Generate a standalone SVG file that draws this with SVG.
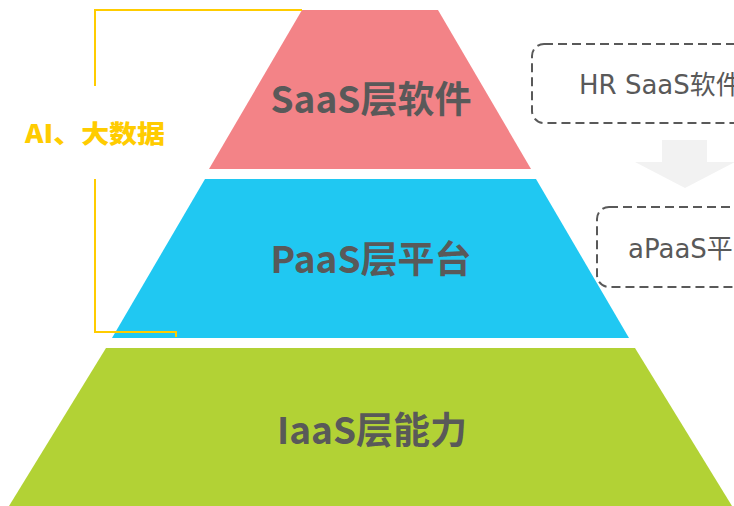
<svg xmlns="http://www.w3.org/2000/svg" width="734" height="506" viewBox="0 0 734 506">
<style>
.layer{font-family:"Noto Sans CJK SC","Noto Sans",sans-serif;font-weight:bold;font-size:37px;fill:#595959;text-anchor:middle}
.side{font-family:"DejaVu Sans","Noto Sans CJK SC",sans-serif;font-size:26px;fill:#595959}
.dash{fill:none;stroke:#595959;stroke-width:2;stroke-dasharray:9 5}
.bracket{fill:none;stroke:#FFCC00;stroke-width:2}
.ai{font-family:"Noto Sans CJK SC",sans-serif;font-weight:900;font-size:25px;fill:#FFCC00}
</style>
<rect width="734" height="506" fill="#FFFFFF"/>
<g id="saas">
<polygon points="302,10 438,10 531,169 209,169" fill="#F38387"/>
<text class="layer" x="371" y="113">SaaS层软件</text>
</g>
<g id="paas">
<polygon points="205,179 536,179 629,338 112,338" fill="#20C8F2"/>
<text class="layer" x="371" y="273">PaaS层平台</text>
</g>
<g id="iaas">
<polygon points="106,348 635,348 732,506 9,506" fill="#B2D235"/>
<text class="layer" x="372" y="444">IaaS层能力</text>
</g>
<g id="ai-bigdata">
<polyline class="bracket" points="302,10 95,10 95,86"/>
<polyline class="bracket" points="95,179 95,332 176,332 176,337"/>
<text class="ai" x="25" y="143" textLength="140" lengthAdjust="spacingAndGlyphs">AI、大数据</text>
</g>
<g id="hr-saas">
<rect class="dash" x="532" y="44" width="250" height="79" rx="12"/>
<text class="side" x="579" y="94">HR SaaS软件</text>
</g>
<g id="apaas">
<rect class="dash" x="597" y="207" width="200" height="80" rx="12"/>
<text class="side" x="628" y="258">aPaaS平</text>
</g>
<g id="connectors">
<polygon points="662,140 707,140 707,162 735,162 685,188 635,162 662,162" fill="#F2F2F2"/>
</g>
</svg>
